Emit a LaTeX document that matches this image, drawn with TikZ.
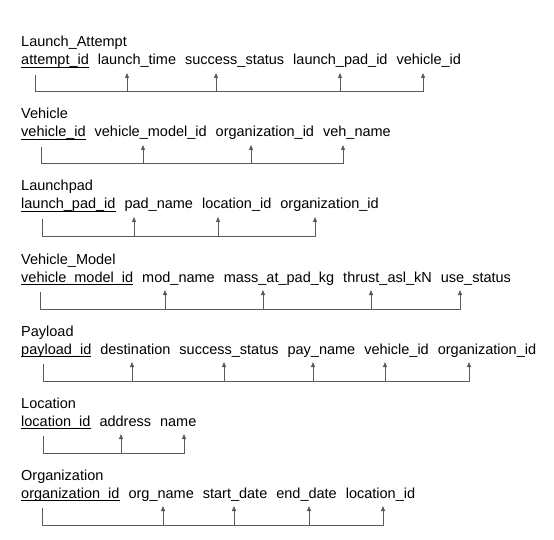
\documentclass[tikz,border=0pt]{standalone}
\usepackage{fontspec}
\setmainfont{Liberation Sans}
\usetikzlibrary{positioning, arrows.meta}

\definecolor{linegray}{RGB}{90,90,90}
\newsavebox{\pkbox}
\newcommand{\pk}[1]{\sbox{\pkbox}{#1}\rlap{\rule[-3pt]{\wd\pkbox}{1pt}}\usebox{\pkbox}}

\tikzset{
  attr/.style={inner sep=0pt, anchor=base west, font=\fontsize{14.5}{17}\selectfont},
  tname/.style={attr},
  link/.style={draw=linegray, line width=1pt, -{Triangle[length=5pt,width=4pt]}}
}

\begin{document}
\begin{tikzpicture}[x=1pt, y=-1pt, node distance=8.6pt]
\useasboundingbox (0,0) rectangle (554,540);

%%%%% Launch_Attempt
\node[tname] (la) at (21,47) {Launch\_Attempt};
\node[attr] (la0) at (21,65) {\pk{attempt\_id}}; \node[attr, base right=of la0] (la1) {launch\_time}; \node[attr, base right=of la1] (la2) {success\_status};
\node[attr, base right=of la2] (la3) {launch\_pad\_id}; \node[attr, base right=of la3] (la4) {vehicle\_id};

\coordinate (la0t) at (35,75); \coordinate (la1t) at (127,73); \coordinate (la2t) at (216,73); \coordinate (la3t) at (340,73); \coordinate (la4t) at (423,73);
\draw[link] (la0t) -- ++(0,17) -| (la4t);
\draw[link] (la1t) ++(0,19) -- (la1t); \draw[link] (la2t) ++(0,19) -- (la2t); \draw[link] (la3t) ++(0,19) -- (la3t);


%%%%% Vehicle
\node[tname] (ve) at (21,119) {Vehicle};
\node[attr] (ve0) at (21,137) {\pk{vehicle\_id}}; \node[attr, base right=of ve0] (ve1) {vehicle\_model\_id}; \node[attr, base right=of ve1] (ve2) {organization\_id};
\node[attr, base right=of ve2] (ve3) {veh\_name};

\coordinate (ve0t) at (41,147); \coordinate (ve1t) at (143,145); \coordinate (ve2t) at (251,145); \coordinate (ve3t) at (343,145);
\draw[link] (ve0t) -- ++(0,17) -| (ve3t);
\draw[link] (ve1t) ++(0,19) -- (ve1t); \draw[link] (ve2t) ++(0,19) -- (ve2t);


%%%%% Launchpad
\node[tname] (lp) at (21,191) {Launchpad};
\node[attr] (lp0) at (21,209) {\pk{launch\_pad\_id}}; \node[attr, base right=of lp0] (lp1) {pad\_name}; \node[attr, base right=of lp1] (lp2) {location\_id};
\node[attr, base right=of lp2] (lp3) {organization\_id};

\coordinate (lp0t) at (42,219); \coordinate (lp1t) at (134,217); \coordinate (lp2t) at (218,217); \coordinate (lp3t) at (315,217);
\draw[link] (lp0t) -- ++(0,17) -| (lp3t);
\draw[link] (lp1t) ++(0,19) -- (lp1t); \draw[link] (lp2t) ++(0,19) -- (lp2t);


%%%%% Vehicle_Model
\node[tname] (vm) at (21,264) {Vehicle\_Model};
\node[attr] (vm0) at (21,282) {\pk{vehicle\_model\_id}}; \node[attr, base right=of vm0] (vm1) {mod\_name}; \node[attr, base right=of vm1] (vm2) {mass\_at\_pad\_kg};
\node[attr, base right=of vm2] (vm3) {thrust\_asl\_kN}; \node[attr, base right=of vm3] (vm4) {use\_status};

\coordinate (vm0t) at (40,292); \coordinate (vm1t) at (165,290); \coordinate (vm2t) at (263,290); \coordinate (vm3t) at (371,290); \coordinate (vm4t) at (460,290);
\draw[link] (vm0t) -- ++(0,17) -| (vm4t);
\draw[link] (vm1t) ++(0,19) -- (vm1t); \draw[link] (vm2t) ++(0,19) -- (vm2t); \draw[link] (vm3t) ++(0,19) -- (vm3t);


%%%%% Payload
\node[tname] (pl) at (21,336) {Payload};
\node[attr] (pl0) at (21,354) {\pk{payload\_id}}; \node[attr, base right=of pl0] (pl1) {destination}; \node[attr, base right=of pl1] (pl2) {success\_status};
\node[attr, base right=of pl2] (pl3) {pay\_name}; \node[attr, base right=of pl3] (pl4) {vehicle\_id}; \node[attr, base right=of pl4] (pl5) {organization\_id};

\coordinate (pl0t) at (43,364); \coordinate (pl1t) at (132,362); \coordinate (pl2t) at (224,362); \coordinate (pl3t) at (313,362); \coordinate (pl4t) at (385,362); \coordinate (pl5t) at (469,362);
\draw[link] (pl0t) -- ++(0,17) -| (pl5t);
\draw[link] (pl1t) ++(0,19) -- (pl1t); \draw[link] (pl2t) ++(0,19) -- (pl2t); \draw[link] (pl3t) ++(0,19) -- (pl3t); \draw[link] (pl4t) ++(0,19) -- (pl4t);


%%%%% Location
\node[tname] (lo) at (21,408) {Location};
\node[attr] (lo0) at (21,426) {\pk{location\_id}}; \node[attr, base right=of lo0] (lo1) {address}; \node[attr, base right=of lo1] (lo2) {name};

\coordinate (lo0t) at (43,436); \coordinate (lo1t) at (121,434); \coordinate (lo2t) at (184,434);
\draw[link] (lo0t) -- ++(0,17) -| (lo2t);
\draw[link] (lo1t) ++(0,19) -- (lo1t);


%%%%% Organization
\node[tname] (or) at (21,480) {Organization};
\node[attr] (or0) at (21,498) {\pk{organization\_id}}; \node[attr, base right=of or0] (or1) {org\_name}; \node[attr, base right=of or1] (or2) {start\_date};
\node[attr, base right=of or2] (or3) {end\_date}; \node[attr, base right=of or3] (or4) {location\_id};

\coordinate (or0t) at (42,508); \coordinate (or1t) at (163,506); \coordinate (or2t) at (234,506); \coordinate (or3t) at (309,506); \coordinate (or4t) at (383,506);
\draw[link] (or0t) -- ++(0,17) -| (or4t);
\draw[link] (or1t) ++(0,19) -- (or1t); \draw[link] (or2t) ++(0,19) -- (or2t); \draw[link] (or3t) ++(0,19) -- (or3t);

\end{tikzpicture}
\end{document}
